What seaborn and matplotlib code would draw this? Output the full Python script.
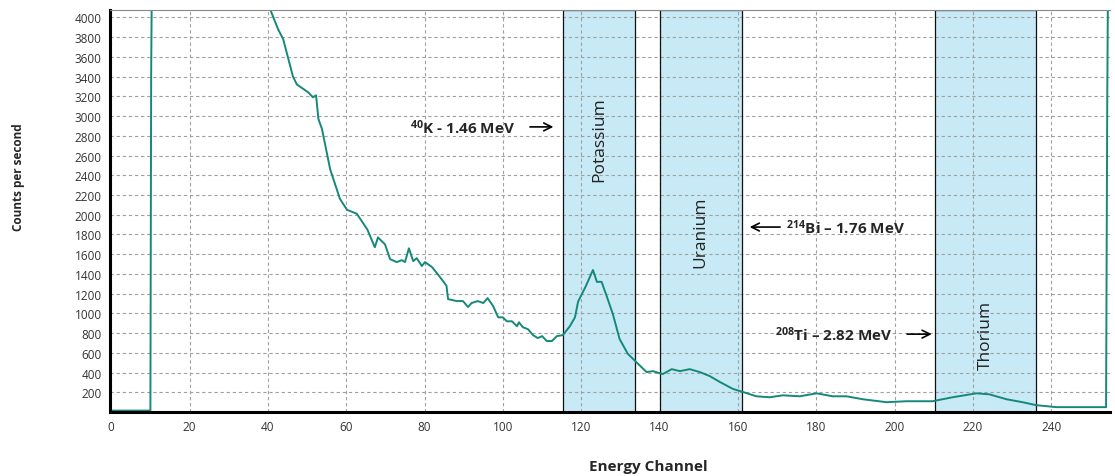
# Import libraries
import pandas as pd
import matplotlib.pyplot as plt
import seaborn as sns
from matplotlib.ticker import MultipleLocator

# Spectrum (energy channel -> counts per second)
channel = [0, 10, 10.2, 10.5, 39, 40.7, 42.6, 43.9, 46.4, 47.4, 50.3, 51.5,
           52.3, 52.9, 53.8, 55.9, 58.4, 60.2, 62.7, 65.4, 67.3, 68.1, 69.9,
           71.2, 72.9, 74.2, 75, 76, 77.1, 78, 79.3, 80.1, 81.9, 83.9, 85.6,
           86, 88.2, 89.8, 91.1, 92, 93.6, 95, 96.1, 97.5, 98.8, 100, 101,
           102.3, 103.6, 104.1, 105.1, 106.4, 107.7, 108.9, 110, 111.2, 112.5,
           113.8, 115.3, 117.1, 118.4, 119.2, 121.1, 123, 124, 125.2, 126.5,
           128.1, 129.8, 131.9, 134.1, 136.7, 138.3, 140.8, 143.1, 145.2,
           147.7, 150.3, 152.8, 155.4, 158.7, 161.2, 164.7, 168.1, 171.5,
           175.8, 180.1, 184.2, 187.7, 191.9, 198, 203, 209.7, 214.8, 220.9,
           224.2, 228.6, 232.7, 236.2, 241.3, 248, 254, 254.3, 254.6]
counts = [15, 15, 3450, 5000, 4250, 4070, 3880, 3780, 3400, 3320, 3240, 3190,
          3210, 2970, 2870, 2460, 2160, 2050, 2010, 1850, 1670, 1770, 1700,
          1550, 1520, 1540, 1520, 1660, 1530, 1560, 1480, 1520, 1470, 1370,
          1280, 1145, 1125, 1125, 1065, 1105, 1125, 1105, 1155, 1075, 960,
          960, 920, 920, 870, 910, 860, 840, 780, 750, 770, 720, 720, 770,
          780, 870, 960, 1120, 1270, 1440, 1320, 1320, 1175, 990, 740, 590,
          505, 405, 415, 385, 435, 415, 435, 405, 365, 305, 235, 205, 160,
          150, 170, 160, 190, 160, 160, 130, 100, 110, 110, 150, 190, 180,
          130, 100, 70, 50, 50, 50, 3150, 5000]

# Windows of the three elements
band_names = ["Potassium", "Uranium", "Thorium"]
band_start = [115.3, 140, 210.2]
band_end = [133.7, 161, 236.2]
band_label_y = [2770, 1830, 790]

df = pd.DataFrame({"channel": channel, "counts": counts})

sns.set_style("white")
plt.rcParams["font.family"] = ["Open Sans", "DejaVu Sans"]
plt.rcParams["mathtext.fontset"] = "custom"
plt.rcParams["mathtext.rm"] = "Open Sans:bold"
plt.rcParams["mathtext.default"] = "rm"

fig = plt.figure(figsize=(11.15, 4.77), dpi=100)
ax = fig.add_axes([0.0987, 0.134, 0.8968, 0.843])

# Shaded element windows (fill below the grid, outline above it)
for name, x0, x1, ly in zip(band_names, band_start, band_end, band_label_y):
    ax.axvspan(x0, x1, facecolor="#c8eaf6", edgecolor="none", zorder=1)
    ax.axvspan(x0, x1, facecolor="none", edgecolor="#111111", linewidth=0.9,
               zorder=1.8)
    ax.text((x0 + x1) / 2, ly, name, rotation=90, ha="center", va="center",
            fontsize=12.5, color="#222222", zorder=3)

sns.lineplot(data=df, x="channel", y="counts", color="#14897a", linewidth=1.4,
             ax=ax, zorder=2)

# Peak annotations
ax.text(76.3, 2890, r"$^{40}$K - 1.46 MeV", fontsize=11, fontweight="bold",
        ha="left", va="center")
ax.annotate("", xy=(113.6, 2890), xytext=(106.2, 2890),
            arrowprops=dict(arrowstyle="->", lw=1.2, color="black",
                            mutation_scale=14))
ax.text(172.2, 1875, r"$^{214}$Bi – 1.76 MeV", fontsize=11, fontweight="bold",
        ha="left", va="center")
ax.annotate("", xy=(162.3, 1875), xytext=(171.5, 1875),
            arrowprops=dict(arrowstyle="->", lw=1.2, color="black",
                            mutation_scale=14))
ax.text(169.5, 790, r"$^{208}$Ti – 2.82 MeV", fontsize=11, fontweight="bold",
        ha="left", va="center")
ax.annotate("", xy=(210.2, 790), xytext=(202.5, 790),
            arrowprops=dict(arrowstyle="->", lw=1.2, color="black",
                            mutation_scale=14))

# Axes, ticks and grid
ax.set_xlim(-0.3, 255)
ax.set_ylim(0, 4075)
ax.xaxis.set_major_locator(MultipleLocator(20))
ax.xaxis.set_minor_locator(MultipleLocator(5))
ax.set_yticks(range(200, 4001, 200))
ax.yaxis.set_minor_locator(MultipleLocator(40))
ax.tick_params(axis="both", which="major", direction="out", length=4,
               width=1, labelsize=8.5, labelcolor="#333333", color="#444444")
ax.tick_params(axis="both", which="minor", direction="in", length=2,
               width=0.8, color="#666666")
ax.tick_params(axis="x", pad=2)
ax.tick_params(axis="y", pad=2)
ax.grid(True, which="major", linestyle=(0, (3, 2.5)), color="#a0a0a0",
        linewidth=0.8)
ax.set_axisbelow("line")

ax.spines["left"].set_linewidth(2.2)
ax.spines["left"].set_color("black")
ax.spines["bottom"].set_linewidth(2.2)
ax.spines["bottom"].set_color("black")
ax.spines["top"].set_linewidth(0.8)
ax.spines["top"].set_color("#888888")
ax.spines["right"].set_visible(False)

ax.set_xlabel("Energy Channel", fontsize=11, fontweight="bold")
ax.set_ylabel("Counts per second", fontsize=8.5, fontweight="bold")
ax.xaxis.set_label_coords(0.538, -0.117)
ax.yaxis.set_label_coords(-0.085, 0.587)

fig.savefig("out.png", dpi=100)
